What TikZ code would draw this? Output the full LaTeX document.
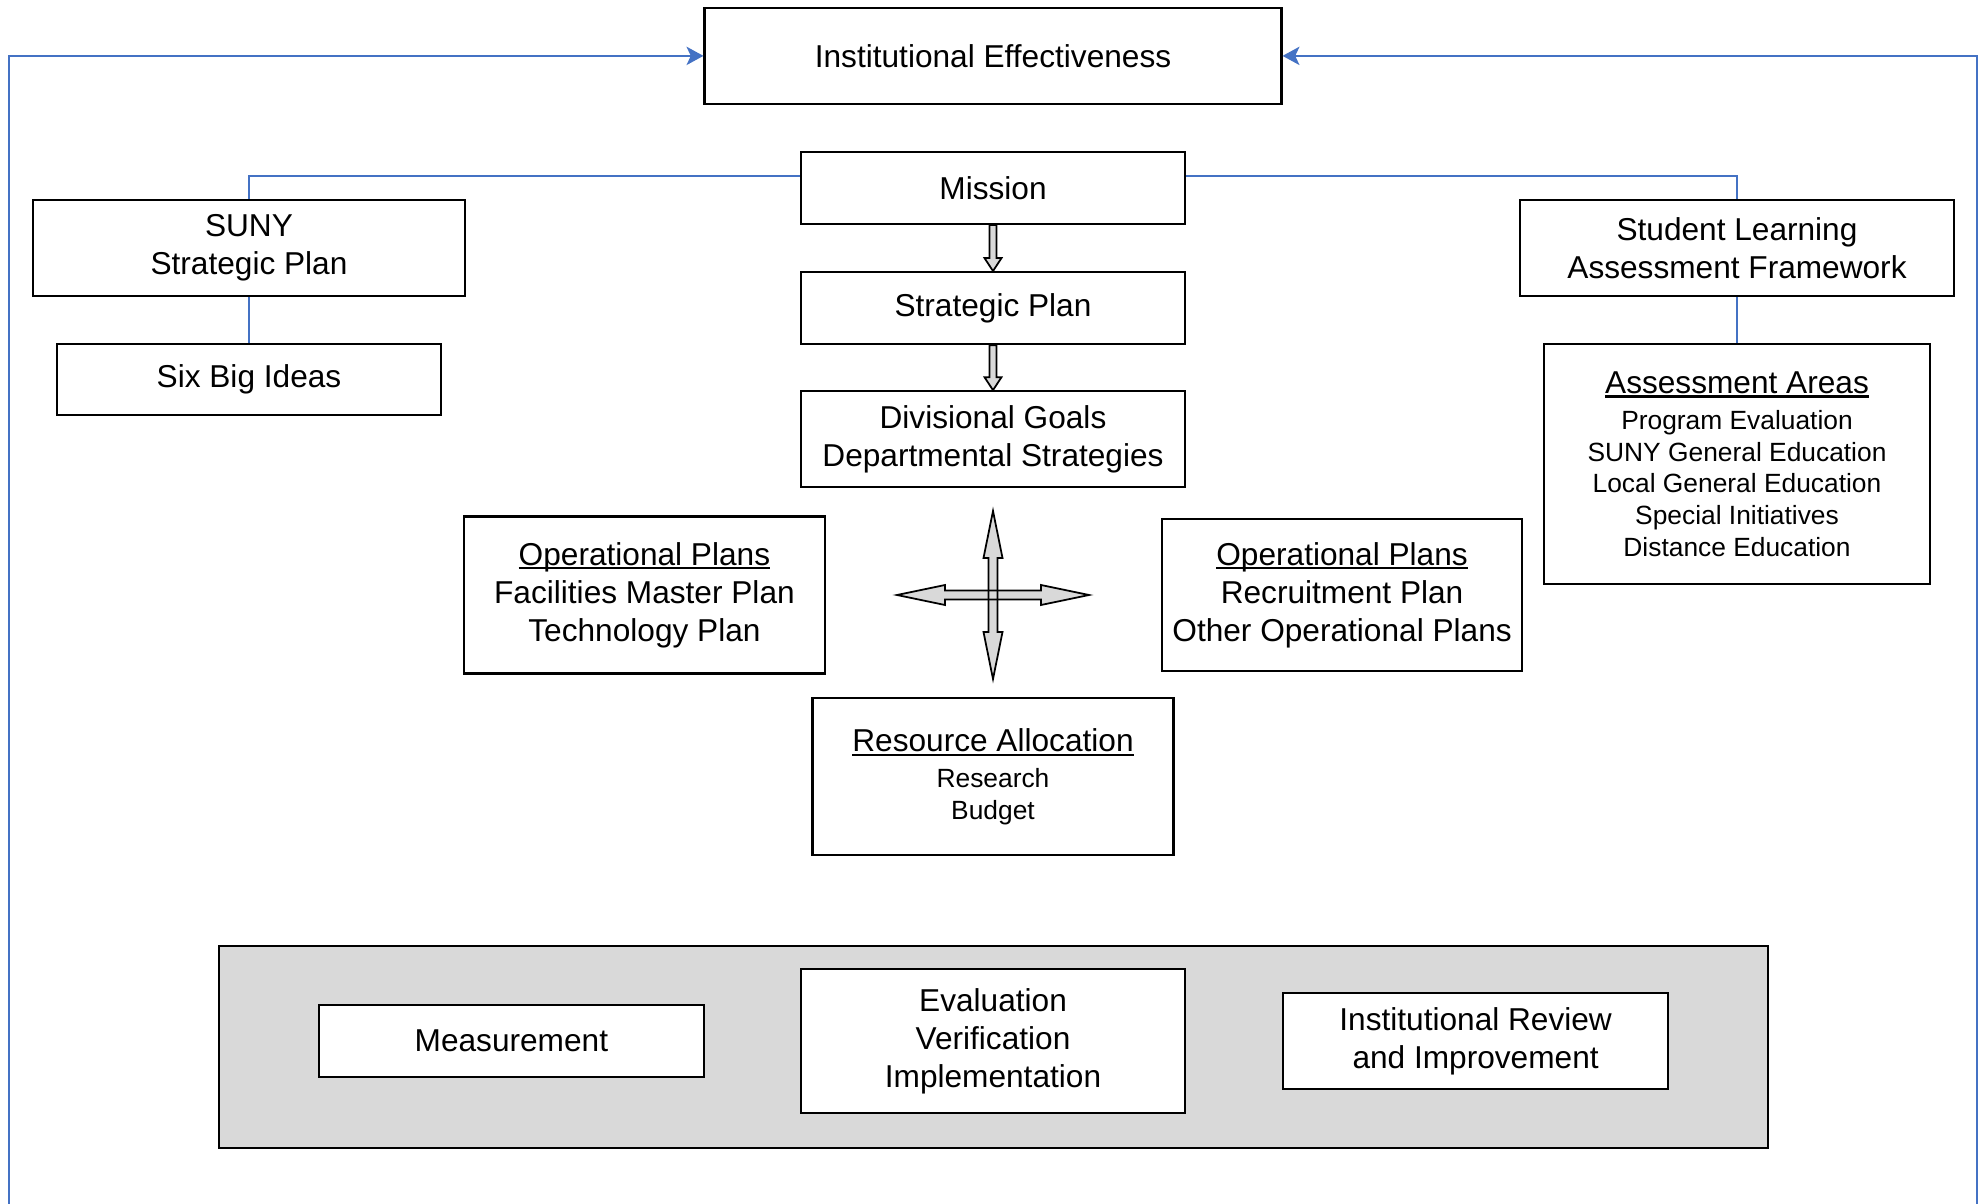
\documentclass[tikz,border=0pt]{standalone}
\usepackage{fontspec}
\setmainfont{Liberation Sans}
\usetikzlibrary{calc}
\usetikzlibrary{arrows.meta, positioning}
\definecolor{my_blue}{RGB}{68, 114, 196}
\definecolor{my_gray}{RGB}{217, 217, 217}
\newcommand\bigtext{\fontsize{9}{10.8}\selectfont}
\newcommand\smalltext{\fontsize{7.5}{9}\selectfont}
% underline at a fixed depth, also under descenders
\newcommand\uhead[1]{\setbox0\hbox{#1}\rlap{\vrule height -0.5pt depth 1.1pt width \wd0}\box0}
% grey block arrow from one node anchor down to another
\newcommand\flowdown[2]{%
  \draw[blockarrow] ($(#1)+(-0.035,0)$) -- ($(#2)+(-0.035,0.13)$) -- ($(#2)+(-0.085,0.13)$) -- (#2)
    -- ($(#2)+(0.085,0.13)$) -- ($(#2)+(0.035,0.13)$) -- ($(#1)+(0.035,0)$) -- cycle;}
\tikzset {
  box/.style = {draw, line width=0.6pt, fill=white, inner sep=0pt, align=center, text centered, minimum width=3.84cm, minimum height=0.72cm, font=\bigtext},
  panel/.style = {draw, line width=0.6pt, fill=my_gray, inner sep=0pt},
  link/.style = {draw=my_blue, line width=0.6pt},
  feedback/.style = {link, -{Stealth[length=4.8pt, width=5.2pt, inset=1.2pt]}},
  blockarrow/.style = {draw, line width=0.5pt, fill=my_gray, line join=miter},
}

\begin{document}
\begin{tikzpicture}
    \useasboundingbox (0,0) rectangle (19.83,-12.04);

    \node[box, name=mission] (mission) at (9.93,-1.88) {Mission};
    \node[box, name=ie, minimum width=5.77cm, minimum height=0.96cm, above=0.46cm of mission] (ie) {Institutional Effectiveness};
    \node[box, name=strat, below=0.46cm of mission] (strat) {Strategic Plan};
    \node[box, name=goals, minimum height=0.96cm, below=0.45cm of strat] (goals) {Divisional Goals\\Departmental Strategies};
    \node[box, name=resalloc, minimum width=3.61cm, minimum height=1.57cm, font=\smalltext, below=2.09cm of goals] (resalloc) {{\bigtext\uhead{Resource Allocation}}\\[1.2pt]Research\\Budget};

    \coordinate (hub) at (9.93,-5.95);
    \node[box, name=opleft, minimum width=3.61cm, minimum height=1.57cm, left=1.67cm of hub] (opleft) {\uhead{Operational Plans}\\Facilities Master Plan\\Technology Plan};
    \node[box, name=opright, minimum width=3.60cm, minimum height=1.52cm, right=1.68cm of hub] (opright) {\uhead{Operational Plans}\\Recruitment Plan\\Other Operational Plans};

    \node[box, name=suny, minimum width=4.32cm, minimum height=0.96cm] (suny) at (2.49,-2.48) {SUNY\\Strategic Plan};
    \node[box, name=six, minimum height=0.71cm, below=0.46cm of suny] (six) {Six Big Ideas};
    \node[box, name=slaf, minimum width=4.34cm, minimum height=0.96cm] (slaf) at (17.37,-2.48) {Student Learning\\Assessment Framework};
    \node[box, name=areas, minimum width=3.86cm, minimum height=2.40cm, font=\smalltext, below=0.46cm of slaf] (areas) {{\bigtext\uhead{Assessment Areas}}\\[1.2pt]Program Evaluation\\SUNY General Education\\Local General Education\\Special Initiatives\\Distance Education};

    \node[panel, name=base, minimum width=15.49cm, minimum height=2.02cm] (base) at (9.935,-10.47) {};
    \node[box, name=evalbox, minimum height=1.44cm] (evalbox) at (9.93,-10.41) {Evaluation\\Verification\\Implementation};
    \node[box, name=meas, minimum width=3.85cm, left=0.95cm of evalbox] (meas) {Measurement};
    \node[box, name=review, minimum width=3.85cm, minimum height=0.96cm, right=0.96cm of evalbox] (review) {Institutional Review\\and Improvement};

    \flowdown{mission.south}{strat.north}
    \flowdown{strat.south}{goals.north}

    \begin{scope}[shift={(hub)}]
      \fill[my_gray] (-0.96,0) -- (-0.48,0.10) -- (-0.48,0.045) -- (0.48,0.045) -- (0.48,0.10) -- (0.96,0) -- (0.48,-0.10) -- (0.48,-0.045) -- (-0.48,-0.045) -- (-0.48,-0.10) -- cycle;
      \fill[my_gray] (0,0.84) -- (0.095,0.37) -- (0.045,0.37) -- (0.045,-0.37) -- (0.095,-0.37) -- (0,-0.84) -- (-0.095,-0.37) -- (-0.045,-0.37) -- (-0.045,0.37) -- (-0.095,0.37) -- cycle;
      \draw[line width=0.5pt, line join=miter] (-0.96,0) -- (-0.48,0.10) -- (-0.48,0.045) -- (0.48,0.045) -- (0.48,0.10) -- (0.96,0) -- (0.48,-0.10) -- (0.48,-0.045) -- (-0.48,-0.045) -- (-0.48,-0.10) -- cycle;
      \draw[line width=0.5pt, line join=miter] (0,0.84) -- (0.095,0.37) -- (0.045,0.37) -- (0.045,-0.37) -- (0.095,-0.37) -- (0,-0.84) -- (-0.095,-0.37) -- (-0.045,-0.37) -- (-0.045,0.37) -- (-0.095,0.37) -- cycle;
    \end{scope}

    \draw[link] ([yshift=0.12cm]mission.west) -| (suny.north);
    \draw[link] ([yshift=0.12cm]mission.east) -| (slaf.north);
    \draw[link] (suny.south) -- (six.north);
    \draw[link] (slaf.south) -- (areas.north);

    \coordinate (loopL) at (0.09,-12.04);
    \coordinate (loopR) at (19.77,-12.04);
    \draw[feedback] (loopL) |- (ie.west);
    \draw[feedback] (loopR) |- (ie.east);

\end{tikzpicture}
\end{document}
